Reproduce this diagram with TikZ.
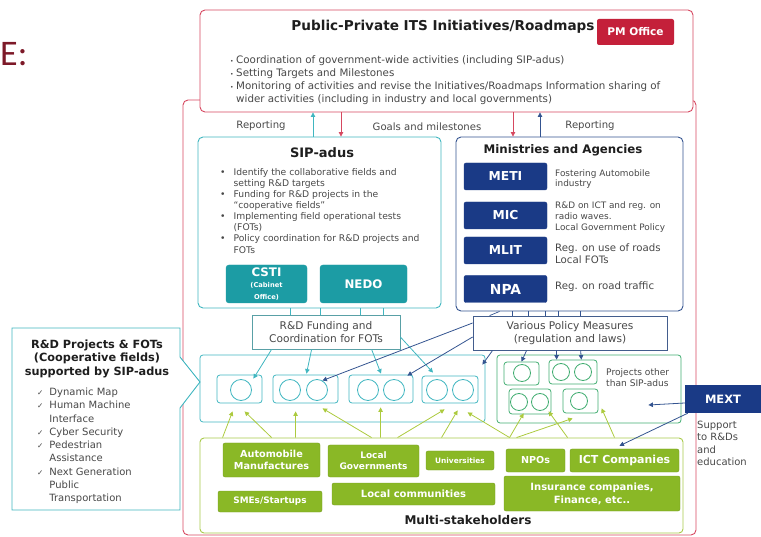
\documentclass[tikz,border=0pt]{standalone}
\usepackage{fontspec}
\setmainfont{DejaVu Sans}
\newfontfamily\slidefont{Carlito}
\usetikzlibrary{arrows.meta}
\definecolor{itsred}{RGB}{214,72,96}
\definecolor{pmred}{RGB}{196,32,58}
\definecolor{sipteal}{RGB}{64,182,192}
\definecolor{tealfill}{RGB}{28,156,164}
\definecolor{navy}{RGB}{26,58,134}
\definecolor{navyline}{RGB}{52,84,144}
\definecolor{projgreen}{RGB}{64,172,112}
\definecolor{limeline}{RGB}{168,202,74}
\definecolor{limefill}{RGB}{138,184,38}
\definecolor{limearr}{RGB}{172,202,62}
\definecolor{txtgray}{RGB}{72,72,72}
\definecolor{txtdark}{RGB}{30,30,30}
\definecolor{slidered}{RGB}{125,25,40}
\newcommand\fz[2]{\fontsize{#1}{#2}\selectfont}
\tikzset{
  every node/.style={inner sep=0pt, text=txtgray},
  frame/.style={draw, fill=white, rounded corners=5pt, line width=0.9pt},
  tealbox/.style={fill=tealfill, draw=tealfill, rounded corners=3pt, text=white, align=center},
  navybox/.style={fill=navy, draw=navy, rounded corners=2pt, text=white,
    minimum width=83pt, minimum height=27pt, font=\bfseries\fz{12.3}{14}},
  limebox/.style={fill=limefill, draw=limefill!85!black, rounded corners=2pt, text=white, align=center},
  projbox/.style={draw=sipteal, rounded corners=3pt, line width=0.8pt},
  projdot/.style={draw=sipteal, circle, minimum size=21pt, line width=0.8pt},
  otherbox/.style={draw=projgreen, rounded corners=3pt, line width=0.8pt},
  otherdot/.style={draw=projgreen, circle, minimum size=17pt, line width=0.8pt},
  tip/.style={-{Triangle[length=4.5pt,width=4.5pt]}},
  tealarr/.style={tip, draw=sipteal, line width=0.8pt},
  redarr/.style={tip, draw=itsred, line width=0.8pt},
  navyarr/.style={tip, draw=navyline, line width=0.8pt},
  limearrow/.style={tip, draw=limearr, line width=0.8pt},
}
\begin{document}
\begin{tikzpicture}[x=1pt,y=-1pt]
\useasboundingbox (0,0) rectangle (761,537);

% slide remnant on the left
\node[text=slidered, anchor=west, font=\slidefont\fz{36}{36}] (slideE) at (0,54) {E:};

% outer frame and roadmap box
\node[frame, draw=itsred, fill=none, minimum width=513pt, minimum height=435pt] (mainframe) at (439.5,317.5) {};
\node[frame, draw=itsred, minimum width=493pt, minimum height=102pt] (roadmap) at (446.5,61) {};
\node[text=txtdark, font=\bfseries\fz{13.6}{15}] (roadtitle) at (443,27) {Public-Private ITS Initiatives/Roadmaps};
\node[fill=pmred, rounded corners=2pt, text=white, font=\bfseries\fz{10.6}{12},
  minimum width=77pt, minimum height=26pt] (pmoffice) at (635.5,32) {PM Office};
\node[anchor=west, align=left, font=\fz{10.3}{13}] (roadtext) at (230,80.5)
  {{\fz{6}{13}•}\hspace{2.5pt}Coordination of government-wide activities (including SIP-adus)\\
   {\fz{6}{13}•}\hspace{2.5pt}Setting Targets and Milestones\\
   {\fz{6}{13}•}\hspace{2.5pt}Monitoring of activities and revise the Initiatives/Roadmaps Information sharing of\\
   \hphantom{{\fz{6}{13}•}\hspace{2.5pt}}wider activities (including in industry and local governments)};

% reporting labels
\node[font=\fz{10.1}{12}] (rep1) at (261,126) {Reporting};
\node[font=\fz{10.1}{12}] (goals) at (427,127) {Goals and milestones};
\node[font=\fz{10.1}{12}] (rep2) at (590,126) {Reporting};

% SIP-adus
\node[frame, draw=sipteal, minimum width=243pt, minimum height=171pt] (sip) at (319.5,222.5) {};
\node[text=txtdark, font=\bfseries\fz{13}{15}] (siptitle) at (322,153) {SIP-adus};
\node[anchor=west, font=\fz{9.2}{11.1}] (siptext) at (220,212)
  {\begin{tabular}{@{}l@{\hspace{8pt}}l@{}}
   • & Identify the collaborative fields and\\
     & setting R\&D targets\\
   • & Funding for R\&D projects in the\\
     & “cooperative fields”\\
   • & Implementing field operational tests\\
     & (FOTs)\\
   • & Policy coordination for R\&D projects and\\
     & FOTs
   \end{tabular}};
\node[tealbox, minimum width=81pt, minimum height=38pt, font=\bfseries\fz{11.8}{12}] (csti) at (266.5,284)
  {CSTI\\[-1pt]\fz{6.7}{8}(Cabinet\\\fz{6.7}{8}Office)};
\node[tealbox, minimum width=87pt, minimum height=38pt, font=\bfseries\fz{11.8}{13}] (nedo) at (363.5,284) {NEDO};

% Ministries and Agencies
\node[frame, draw=navyline, minimum width=227pt, minimum height=174pt] (ministries) at (569.5,224) {};
\node[text=txtdark, font=\bfseries\fz{11.8}{13}] (mintitle) at (563,150) {Ministries and Agencies};
\node[navybox] (meti) at (505.5,176.5) {METI};
\node[navybox] (mic) at (505.5,215.5) {MIC};
\node[navybox] (mlit) at (505.5,250.5) {MLIT};
\node[navybox, font=\bfseries\fz{13.8}{15}] (npa) at (505.5,289) {NPA};
\node[anchor=west, align=left, font=\fz{8.9}{10.5}] (metitext) at (555,179) {Fostering Automobile\\industry};
\node[anchor=west, align=left, font=\fz{8.9}{11}] (mictext) at (555,217) {R\&D on ICT and reg. on\\radio waves.\\Local Government Policy};
\node[anchor=west, align=left, font=\fz{10.2}{12}] (mlittext) at (555,254) {Reg. on use of roads\\Local FOTs};
\node[anchor=west, font=\fz{10.2}{12}] (npatext) at (555,287) {Reg. on road traffic};

% top arrows
\coordinate (xrepA) at (313,0);
\coordinate (xgoalA) at (341,0);
\coordinate (xgoalB) at (513,0);
\coordinate (xrepB) at (540,0);
\draw[tealarr] (xrepA |- sip.north) -- (xrepA |- roadmap.south);
\draw[redarr] (xgoalA |- roadmap.south) -- (xgoalA |- sip.north);
\draw[redarr] (xgoalB |- roadmap.south) -- (xgoalB |- ministries.north);
\draw[navyarr] (xrepB |- ministries.north) -- (xrepB |- roadmap.south);

% funding and policy boxes
\node[draw=sipteal!60!gray, fill=white, line width=0.8pt, minimum width=148pt, minimum height=34pt,
  align=center, font=\fz{10.6}{13}] (funding) at (326,332) {R\&D Funding and\\Coordination for FOTs};
\node[draw=navyline!80!gray, fill=white, line width=0.8pt, minimum width=194pt, minimum height=34pt,
  align=center, font=\fz{10.6}{13}] (policy) at (570,333) {Various Policy Measures\\(regulation and laws)};
\foreach \xx in {290,320,360,383}
  \draw[sipteal, line width=0.7pt] (\xx,0 |- sip.south) -- (\xx,0 |- funding.north);
\foreach \xx in {512,528,545,558,580}
  \draw[navyline, line width=0.7pt] (\xx,0 |- ministries.south) -- (\xx,0 |- policy.north);
\draw[navyline, line width=0.7pt] ([shift={(44,0)}]ministries.south west) -- ([shift={(17,0)}]policy.north west);

% SIP-adus projects
\node[projbox, minimum width=285pt, minimum height=67pt] (sipproj) at (342.5,388.5) {};
\node[projbox, minimum width=45pt, minimum height=28pt] (sp1) at (239.5,389) {};
\node[projbox, minimum width=65pt, minimum height=28pt] (sp2) at (305.5,389) {};
\node[projbox, minimum width=64pt, minimum height=28pt] (sp3) at (381,389) {};
\node[projbox, minimum width=56pt, minimum height=27pt] (sp4) at (450,389.5) {};
\node[projdot] (sp1a) at (241,390) {};
\node[projdot] (sp2a) at (290,390) {};
\node[projdot] (sp2b) at (317,390) {};
\node[projdot] (sp3a) at (368,390) {};
\node[projdot] (sp3b) at (394,390) {};
\node[projdot] (sp4a) at (437,390) {};
\node[projdot] (sp4b) at (463,390) {};

% other projects
\node[otherbox, minimum width=184pt, minimum height=68pt] (otherproj) at (589,389) {};
\node[otherbox, minimum width=35pt, minimum height=23pt] (g1) at (521.5,373.5) {};
\node[otherbox, minimum width=48pt, minimum height=24pt] (g2) at (573,372) {};
\node[otherbox, minimum width=42pt, minimum height=25pt] (g3) at (530,401.5) {};
\node[otherbox, minimum width=35pt, minimum height=24pt] (g4) at (580.5,401) {};
\node[otherdot] (g1a) at (522,373) {};
\node[otherdot] (g2a) at (561,372) {};
\node[otherdot] (g2b) at (583,372) {};
\node[otherdot] (g3a) at (519,402) {};
\node[otherdot] (g3b) at (540,402) {};
\node[otherdot] (g4a) at (579,401) {};
\node[anchor=west, align=left, font=\fz{9.1}{11}] (othertext) at (606,378) {Projects other\\than SIP-adus};

% funding arrows
\draw[tealarr] ([shift={(20,0)}]funding.south west) -- ([shift={(-9,4)}]sp1.north east);
\draw[tealarr] ([shift={(60,0)}]funding.south west) -- ([shift={(1,-1)}]sp2.north);
\draw[tealarr] ([shift={(120,0)}]funding.south west) -- ([shift={(0,-1)}]sp3.north);
\draw[tealarr] ([shift={(0,5)}]funding.east) -- ([shift={(-17,-3)}]sp4.north);

% policy arrows
\draw[navyarr] ([shift={(0,-10)}]policy.west) -- (sp2b.60);
\draw[navyarr] ([shift={(0,4)}]policy.west) -- ([shift={(-6,1)}]sp3.north east);
\draw[navyarr] ([shift={(20,0)}]policy.south west) -- ([shift={(-3,10)}]sipproj.north east);
\draw[navyarr] ([shift={(54,0)}]policy.south west) -- (g1.north);
\draw[navyarr] ([shift={(84,0)}]policy.south west) -- ([shift={(8,0)}]g2.north west);
\draw[navyarr] ([shift={(108,0)}]policy.south west) -- ([shift={(-16,0)}]g2.north east);

% R&D callout on the left
\draw[sipteal, line width=0.9pt, fill=white] (12,328) -- (180,328) -- (180,357) -- (200,382)
  -- (180,408) -- (180,510) -- (12,510) -- cycle;
\node[align=center, text=txtdark, font=\bfseries\fz{11.3}{13.5}] (rdhead) at (97,358.5)
  {R\&D Projects \& FOTs\\(Cooperative fields)\\supported by SIP-adus};
\node[anchor=west, font=\fz{10}{13.3}] (rdlist) at (37,446)
  {\begin{tabular}{@{}l@{\hspace{6pt}}l@{}}
   {\fz{7.5}{13.3}✓} & Dynamic Map\\
   {\fz{7.5}{13.3}✓} & Human Machine\\
                   & Interface\\
   {\fz{7.5}{13.3}✓} & Cyber Security\\
   {\fz{7.5}{13.3}✓} & Pedestrian\\
                   & Assistance\\
   {\fz{7.5}{13.3}✓} & Next Generation\\
                   & Public\\
                   & Transportation
   \end{tabular}};

% multi-stakeholders
\node[draw=limeline, rounded corners=4pt, line width=0.9pt, minimum width=483pt, minimum height=95pt] (multi) at (441.5,485.5) {};
\node[text=txtdark, font=\bfseries\fz{12}{14}] (multititle) at (468,520) {Multi-stakeholders};
\node[limebox, minimum width=97pt, minimum height=34pt, font=\bfseries\fz{9.7}{12}] (auto) at (271.5,460) {Automobile\\Manufactures};
\node[limebox, minimum width=91pt, minimum height=32pt, font=\bfseries\fz{9}{11}] (localgov) at (373.5,461) {Local\\Governments};
\node[limebox, minimum width=68pt, minimum height=19pt, font=\bfseries\fz{7.4}{9}] (univ) at (460,460.5) {Universities};
\node[limebox, minimum width=59pt, minimum height=23pt, font=\bfseries\fz{9.6}{11}] (npo) at (535.5,460.5) {NPOs};
\node[limebox, minimum width=109pt, minimum height=23pt, font=\bfseries\fz{11}{12}] (ict) at (624.5,460.5) {ICT Companies};
\node[limebox, minimum width=104pt, minimum height=21pt, font=\bfseries\fz{8.9}{10}] (sme) at (270,501.5) {SMEs/Startups};
\node[limebox, minimum width=163pt, minimum height=22pt, font=\bfseries\fz{10}{11}] (localcom) at (413.5,494) {Local communities};
\node[limebox, minimum width=176pt, minimum height=35pt, font=\bfseries\fz{10}{13}] (insur) at (592,493.5) {Insurance companies,\\Finance, etc..};

% stakeholder arrows
\foreach \sx/\dx/\dy in {23/33/-11, 72/45/-11, 96/96/-11, 172/123/-14, 181/181/-15,
    198/245/-13, 242/258/-12, 310/268/-10}
  \draw[limearrow] ([shift={(\sx,0)}]multi.north west) -- ([shift={(\dx,\dy)}]sipproj.south west);
\foreach \sx/\dx/\dy in {310/27/-10, 317/76/-5, 368/52/-12, 415/105/-15}
  \draw[limearrow] ([shift={(\sx,0)}]multi.north west) -- ([shift={(\dx,\dy)}]otherproj.south west);

% MEXT
\node[fill=navy, text=white, font=\bfseries\fz{11.5}{13}, minimum width=76pt, minimum height=28pt] (mext) at (723,399) {MEXT};
\node[anchor=west, align=left, font=\fz{10}{12.3}] (mexttext) at (697,443.5) {Support\\to R\&Ds\\and\\education};
\draw[navyarr] ([shift={(0,4)}]mext.west) -- ([shift={(-33,16)}]otherproj.east);
\draw[navyarr] ([shift={(3,0)}]mext.south west) -- ([shift={(-5,-3)}]ict.north);
\end{tikzpicture}
\end{document}
